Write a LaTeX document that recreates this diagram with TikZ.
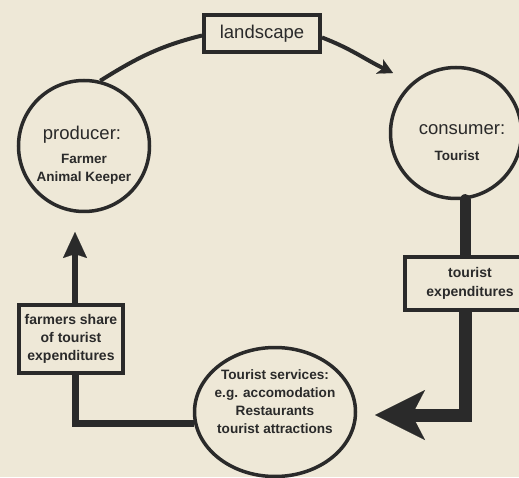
\documentclass[tikz,border=0pt]{standalone}
\usepackage{fontspec}
\setmainfont{Liberation Sans}
\usetikzlibrary{arrows.meta,shapes.geometric,calc}
\definecolor{paper}{RGB}{238,232,215}
\definecolor{ink}{RGB}{42,42,42}
\pgfdeclarelayer{bg}
\pgfsetlayers{bg,main}
\begin{document}
\begin{tikzpicture}[x=1pt,y=1pt,
  every node/.style={text=ink},
  ring/.style={draw=ink,line width=3.5pt,circle,inner sep=0pt,minimum size=131pt},
  oval/.style={draw=ink,line width=3.5pt,ellipse,inner sep=0pt,minimum width=161pt,minimum height=129pt},
  labelbox/.style={draw=ink,fill=paper,line width=4pt,rectangle,inner sep=0pt,align=center},
  bigtxt/.style={font=\fontsize{18.5}{22}\selectfont},
  smalltxt/.style={font=\bfseries\fontsize{13.5}{18}\selectfont,align=center},
  midtxt/.style={font=\bfseries\fontsize{14}{18.3}\selectfont,align=center},
  servtxt/.style={font=\bfseries\fontsize{13.6}{18.2}\selectfont,align=center},
  conn/.style={draw=ink,line join=miter},
]
\useasboundingbox (0,0) rectangle (519,477);
\begin{pgfonlayer}{bg}
\fill[paper] (0,0) rectangle (519,477);
\end{pgfonlayer}
\clip (0,0) rectangle (519,477);

% nodes
\node[ring] (prod) at (84,331) {};
\node[ring] (cons) at (456,344) {};
\node[oval] (serv) at (275,65) {};

\node[bigtxt,anchor=base] (prodtitle) at (82,337) {producer:};
\node[smalltxt] (prodtext) at (84,308) {Farmer\\Animal Keeper};
\node[bigtxt,anchor=base] (constitle) at (462,342) {consumer:};
\node[smalltxt,anchor=base] (constext) at (457,316) {Tourist};
\node[servtxt] (servtext) at (275,75.5) {Tourist services:\\e.g. accomodation\\Restaurants\\tourist attractions};

\node[labelbox,bigtxt,minimum width=116pt,minimum height=37pt] (land) at (262,443.5) {landscape};
\node[labelbox,midtxt,minimum width=130pt,minimum height=53pt] (texp) at (470,193.5) {tourist\\expenditures};
\node[labelbox,midtxt,minimum width=104pt,minimum height=68pt] (farm) at (71,138) {farmers share\\of tourist\\expenditures};

\coordinate (ltip) at (393,404);
\coordinate (atip) at (375,62);
\coordinate (ptip) at (75,245);

% connectors
\begin{pgfonlayer}{bg}
\draw[conn,line width=4pt] (prod.76) to[out=32,in=194] ([yshift=-2pt]land.west);
\draw[conn,line width=4pt,-{Stealth[length=15pt,width=16pt,inset=4pt,line width=0.1pt]}]
  ([yshift=-4pt]land.east) to[out=-21,in=154] (ltip);
\draw[conn,line width=11pt,line cap=round] (cons.-82) -- (cons.-82 |- texp.north);
\draw[conn,line width=13pt,-{Stealth[length=50pt,width=50pt,inset=13pt,line width=0.1pt]}]
  (cons.-82 |- texp.south) |- (atip);
\draw[conn,line width=7pt] (serv.188) -| ([xshift=4pt]farm.south);
\draw[conn,line width=6.5pt,-{Stealth[length=26pt,width=24pt,inset=4pt,line width=0.1pt]}]
  ([xshift=4pt]farm.north) -- (ptip);
\end{pgfonlayer}
\end{tikzpicture}
\end{document}
